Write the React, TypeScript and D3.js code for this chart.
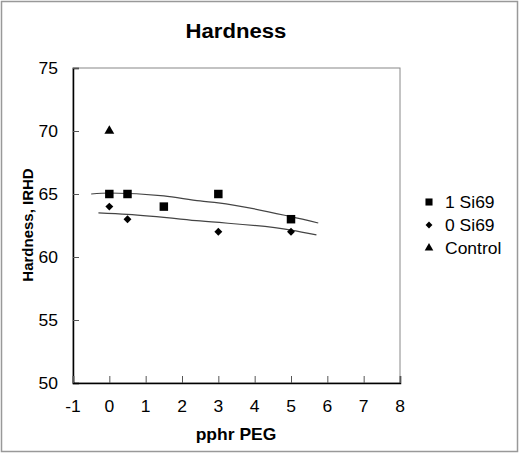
import { useEffect, useRef } from "react";
import * as d3 from "d3";

// measured points
const si1X = [0, 0.5, 1.5, 3, 5];
const si1Y = [65, 65, 64, 65, 63];
const si0X = [0, 0.5, 3, 5];
const si0Y = [64, 63, 62, 62];
const controlX = [0];
const controlY = [70];

// trend lines
const trend1X = [-0.5, 0, 1.5, 2.5, 3, 5, 5.75];
const trend1Y = [65.0, 65.08, 64.85, 64.45, 64.3, 63.2, 62.7];
const trend0X = [-0.3, 0.5, 2.5, 5, 5.7];
const trend0Y = [63.5, 63.38, 62.86, 62.14, 61.75];

const xTicks = [-1, 0, 1, 2, 3, 4, 5, 6, 7, 8];
const yTicks = [50, 55, 60, 65, 70, 75];

const legendNames = ["1 Si69", "0 Si69", "Control"];

const App = () => {
  const svgRef = useRef<SVGSVGElement | null>(null);

  useEffect(() => {
    const width = 519;
    const height = 453;
    const plot = { left: 73, right: 400, top: 68, bottom: 383 };
    const font = "Liberation Sans, Arial, sans-serif";
    const stretch = "scale(1.06,1)";

    const svg = d3.select(svgRef.current);
    svg.selectAll("*").remove();
    svg.attr("width", width).attr("height", height);

    // outer frame
    svg
      .append("rect")
      .attr("x", 1.5)
      .attr("y", 1.5)
      .attr("width", width - 3)
      .attr("height", height - 3)
      .attr("fill", "white")
      .attr("stroke", "#999")
      .attr("stroke-width", 1.5);

    const x = d3.scaleLinear().domain([-1, 8]).range([plot.left, plot.right]);
    const y = d3.scaleLinear().domain([50, 75]).range([plot.bottom, plot.top]);

    // plot area border
    svg
      .append("rect")
      .attr("x", plot.left)
      .attr("y", plot.top)
      .attr("width", plot.right - plot.left)
      .attr("height", plot.bottom - plot.top)
      .attr("fill", "none")
      .attr("stroke", "#888")
      .attr("stroke-width", 1);

    // y axis (ticks point inward)
    const yAxis = svg
      .append("g")
      .attr("transform", `translate(${plot.left},0)`)
      .call(d3.axisRight(y).tickValues(yTicks).tickSize(6).tickFormat(() => ""));
    yAxis.select(".domain").attr("stroke", "#000").attr("stroke-width", 1.5);
    yAxis.selectAll("line").attr("stroke", "#555");

    const xAxis = svg
      .append("g")
      .attr("transform", `translate(0,${plot.bottom})`)
      .call(d3.axisTop(x).tickValues(xTicks).tickSize(7).tickFormat(() => ""));
    xAxis.select(".domain").attr("stroke", "#000").attr("stroke-width", 1.5);
    xAxis.selectAll("line").attr("stroke", "#555");

    // tick labels
    svg
      .append("g")
      .selectAll("text")
      .data(yTicks)
      .enter()
      .append("text")
      .attr("transform", (d) => `translate(${plot.left - 15},${y(d) + 6}) ${stretch}`)
      .attr("text-anchor", "end")
      .style("font-family", font)
      .style("font-size", "16.5px")
      .text((d) => d);

    svg
      .append("g")
      .selectAll("text")
      .data(xTicks)
      .enter()
      .append("text")
      .attr("transform", (d) => `translate(${x(d)},412) ${stretch}`)
      .attr("text-anchor", "middle")
      .style("font-family", font)
      .style("font-size", "16.5px")
      .text((d) => d);

    // trend lines
    const line = d3
      .line<[number, number]>()
      .x((d) => x(d[0]))
      .y((d) => y(d[1]))
      .curve(d3.curveMonotoneX);

    svg
      .append("path")
      .attr("d", line(trend1X.map((v, i) => [v, trend1Y[i]])))
      .attr("fill", "none")
      .attr("stroke", "#444")
      .attr("stroke-width", 1.2);

    svg
      .append("path")
      .attr("d", line(trend0X.map((v, i) => [v, trend0Y[i]])))
      .attr("fill", "none")
      .attr("stroke", "#444")
      .attr("stroke-width", 1.2);

    const square = d3.symbol().type(d3.symbolSquare).size(72);
    const diamond = d3.symbol().type(d3.symbolDiamond2).size(40);
    const triangle = d3.symbol().type(d3.symbolTriangle).size(42);

    // markers
    svg
      .append("g")
      .selectAll("path")
      .data(si1X.map((v, i) => [v, si1Y[i]]))
      .enter()
      .append("path")
      .attr("transform", (d) => `translate(${x(d[0])},${y(d[1])})`)
      .attr("d", square())
      .attr("fill", "#000");

    svg
      .append("g")
      .selectAll("path")
      .data(si0X.map((v, i) => [v, si0Y[i]]))
      .enter()
      .append("path")
      .attr("transform", (d) => `translate(${x(d[0])},${y(d[1])})`)
      .attr("d", diamond())
      .attr("fill", "#000");

    svg
      .append("g")
      .selectAll("path")
      .data(controlX.map((v, i) => [v, controlY[i]]))
      .enter()
      .append("path")
      .attr("transform", (d) => `translate(${x(d[0])},${y(d[1])})`)
      .attr("d", triangle())
      .attr("fill", "#000");

    // legend
    const legendSymbols = [
      d3.symbol().type(d3.symbolSquare).size(50),
      d3.symbol().type(d3.symbolDiamond2).size(30),
      d3.symbol().type(d3.symbolTriangle).size(32),
    ];
    const legend = svg.append("g").attr("transform", "translate(429,202)");
    legendNames.forEach((name, i) => {
      legend
        .append("path")
        .attr("transform", `translate(0,${i * 23})`)
        .attr("d", legendSymbols[i]())
        .attr("fill", "#000");
      legend
        .append("text")
        .attr("transform", `translate(16,${i * 23 + 6}) ${stretch}`)
        .style("font-family", font)
        .style("font-size", "16.5px")
        .text(name);
    });

    // titles
    svg
      .append("text")
      .attr("transform", `translate(236,38) scale(1.08,1)`)
      .attr("text-anchor", "middle")
      .style("font-family", font)
      .style("font-size", "20.5px")
      .style("font-weight", "bold")
      .text("Hardness");

    svg
      .append("text")
      .attr("transform", `translate(236,440) ${stretch}`)
      .attr("text-anchor", "middle")
      .style("font-family", font)
      .style("font-size", "16.5px")
      .style("font-weight", "bold")
      .text("pphr PEG");

    svg
      .append("text")
      .attr("transform", "translate(33,225) rotate(-90)")
      .attr("text-anchor", "middle")
      .style("font-family", font)
      .style("font-size", "15px")
      .style("font-weight", "bold")
      .text("Hardness, IRHD");
  }, []);

  return (
    <div style={{ position: "absolute", left: 0, top: 0 }}>
      <svg ref={svgRef} style={{ display: "block" }}></svg>
    </div>
  );
};

export default App;
